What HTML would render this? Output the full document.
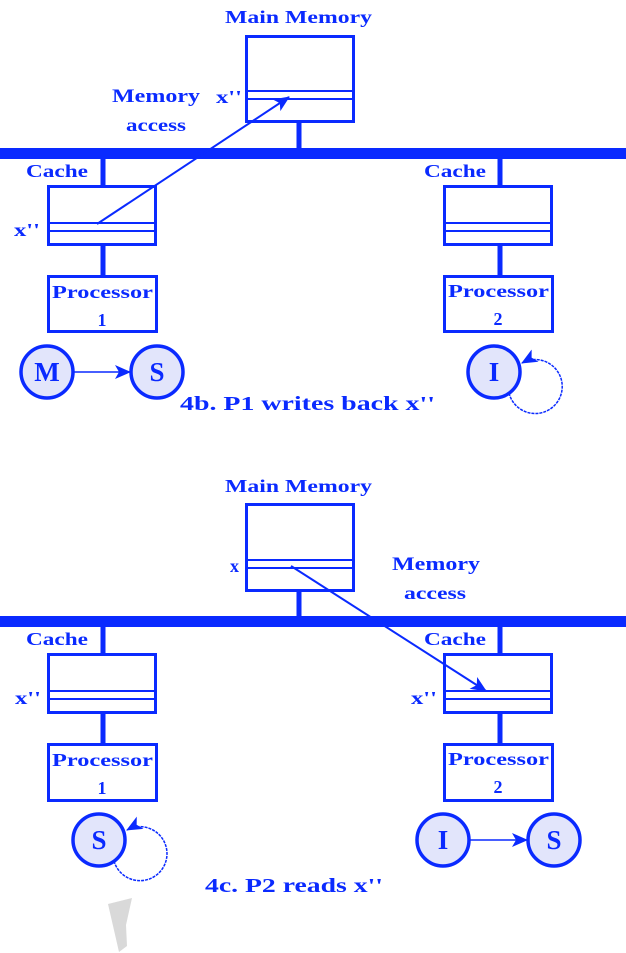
<!DOCTYPE html>
<html><head><meta charset="utf-8"><style>
html,body{margin:0;padding:0;background:#fff;}
svg{display:block;}
text{font-family:"Liberation Serif",serif;font-weight:bold;fill:#0a2aff;}
</style></head><body>
<svg width="626" height="953" viewBox="0 0 626 953" xmlns="http://www.w3.org/2000/svg">
<defs>
<marker id="ah2" markerWidth="16" markerHeight="14" refX="15" refY="7" orient="auto" markerUnits="userSpaceOnUse">
<path d="M0,0 L16,7 L0,14 L4,7 Z" fill="#0a2aff"/>
</marker>
</defs>
<g stroke="#0a2aff" fill="none">
<!-- TOP -->
<rect x="246.5" y="36.5" width="107" height="85" stroke-width="3"/>
<line x1="246" y1="91" x2="354" y2="91" stroke-width="2"/>
<line x1="246" y1="99" x2="354" y2="99" stroke-width="2"/>
<line x1="299" y1="122" x2="299" y2="150" stroke-width="5"/>
<rect x="0" y="148" width="626" height="11" fill="#0a2aff" stroke="none"/>
<line x1="103" y1="158" x2="103" y2="186" stroke-width="5"/>
<rect x="48.5" y="186.5" width="107" height="58" stroke-width="3"/>
<line x1="48" y1="223" x2="156" y2="223" stroke-width="2"/>
<line x1="48" y1="231" x2="156" y2="231" stroke-width="2"/>
<line x1="103" y1="245" x2="103" y2="276" stroke-width="5"/>
<rect x="48.5" y="276.5" width="108" height="55" stroke-width="3"/>
<line x1="500" y1="158" x2="500" y2="186" stroke-width="5"/>
<rect x="444.5" y="186.5" width="107" height="58" stroke-width="3"/>
<line x1="444" y1="223" x2="552" y2="223" stroke-width="2"/>
<line x1="444" y1="231" x2="552" y2="231" stroke-width="2"/>
<line x1="500" y1="245" x2="500" y2="276" stroke-width="5"/>
<rect x="444.5" y="276.5" width="108" height="55" stroke-width="3"/>
<line x1="97" y1="224" x2="289" y2="97" stroke-width="2" marker-end="url(#ah2)"/>
<circle cx="47" cy="372" r="26" fill="#e2e5fb" stroke-width="3.5"/>
<circle cx="157" cy="372" r="26" fill="#e2e5fb" stroke-width="3.5"/>
<line x1="74" y1="372" x2="130" y2="372" stroke-width="1.5" marker-end="url(#ah2)"/>
<circle cx="494" cy="372" r="26" fill="#e2e5fb" stroke-width="3.5"/>
<path d="M509,393 A27,27 0 1 0 522,363" stroke-width="1.5" stroke-dasharray="3,1" marker-end="url(#ah2)"/>
<!-- BOTTOM -->
<rect x="246.5" y="504.5" width="107" height="86" stroke-width="3"/>
<line x1="246" y1="560" x2="354" y2="560" stroke-width="2"/>
<line x1="246" y1="568" x2="354" y2="568" stroke-width="2"/>
<line x1="299" y1="591" x2="299" y2="618" stroke-width="5"/>
<rect x="0" y="616" width="626" height="11" fill="#0a2aff" stroke="none"/>
<line x1="103" y1="626" x2="103" y2="654" stroke-width="5"/>
<rect x="48.5" y="654.5" width="107" height="58" stroke-width="3"/>
<line x1="48" y1="691" x2="156" y2="691" stroke-width="2"/>
<line x1="48" y1="699" x2="156" y2="699" stroke-width="2"/>
<line x1="103" y1="713" x2="103" y2="744" stroke-width="5"/>
<rect x="48.5" y="744.5" width="108" height="56" stroke-width="3"/>
<line x1="500" y1="626" x2="500" y2="654" stroke-width="5"/>
<rect x="444.5" y="654.5" width="107" height="58" stroke-width="3"/>
<line x1="444" y1="691" x2="552" y2="691" stroke-width="2"/>
<line x1="444" y1="699" x2="552" y2="699" stroke-width="2"/>
<line x1="500" y1="713" x2="500" y2="744" stroke-width="5"/>
<rect x="444.5" y="744.5" width="108" height="56" stroke-width="3"/>
<line x1="291" y1="566" x2="486" y2="691" stroke-width="2" marker-end="url(#ah2)"/>
<circle cx="99" cy="840" r="26" fill="#e2e5fb" stroke-width="3.5"/>
<path d="M114,861 A27,27 0 1 0 127,830" stroke-width="1.5" stroke-dasharray="3,1" marker-end="url(#ah2)"/>
<circle cx="443" cy="840" r="26" fill="#e2e5fb" stroke-width="3.5"/>
<circle cx="554" cy="840" r="26" fill="#e2e5fb" stroke-width="3.5"/>
<line x1="470" y1="840" x2="527" y2="840" stroke-width="1.5" marker-end="url(#ah2)"/>
</g>
<polygon points="108,904 132,898 126,925 127,946 119,952" fill="#d9d9d9"/>
<!-- text top -->
<text x="225" y="23" font-size="18" textLength="147" lengthAdjust="spacingAndGlyphs">Main Memory</text>
<text x="112" y="102" font-size="19" textLength="88" lengthAdjust="spacingAndGlyphs">Memory</text>
<text x="126" y="131" font-size="18" textLength="60" lengthAdjust="spacingAndGlyphs">access</text>
<text x="216" y="103" font-size="18" textLength="26" lengthAdjust="spacingAndGlyphs">x''</text>
<text x="26" y="177" font-size="18" textLength="62" lengthAdjust="spacingAndGlyphs">Cache</text>
<text x="14" y="236" font-size="18" textLength="26" lengthAdjust="spacingAndGlyphs">x''</text>
<text x="52" y="298" font-size="18" textLength="101" lengthAdjust="spacingAndGlyphs">Processor</text>
<text x="102" y="326" font-size="18" text-anchor="middle">1</text>
<text x="424" y="177" font-size="18" textLength="62" lengthAdjust="spacingAndGlyphs">Cache</text>
<text x="448" y="297" font-size="18" textLength="101" lengthAdjust="spacingAndGlyphs">Processor</text>
<text x="498" y="325" font-size="18" text-anchor="middle">2</text>
<text x="47" y="381" font-size="27" text-anchor="middle">M</text>
<text x="157" y="381" font-size="27" text-anchor="middle">S</text>
<text x="494" y="381" font-size="27" text-anchor="middle">I</text>
<text x="180" y="410" font-size="20" textLength="255" lengthAdjust="spacingAndGlyphs">4b. P1 writes back x''</text>
<!-- text bottom -->
<text x="225" y="492" font-size="18" textLength="147" lengthAdjust="spacingAndGlyphs">Main Memory</text>
<text x="230" y="572" font-size="18">x</text>
<text x="392" y="570" font-size="19" textLength="88" lengthAdjust="spacingAndGlyphs">Memory</text>
<text x="404" y="599" font-size="18" textLength="62" lengthAdjust="spacingAndGlyphs">access</text>
<text x="26" y="645" font-size="18" textLength="62" lengthAdjust="spacingAndGlyphs">Cache</text>
<text x="15" y="704" font-size="18" textLength="26" lengthAdjust="spacingAndGlyphs">x''</text>
<text x="52" y="766" font-size="18" textLength="101" lengthAdjust="spacingAndGlyphs">Processor</text>
<text x="102" y="794" font-size="18" text-anchor="middle">1</text>
<text x="424" y="645" font-size="18" textLength="62" lengthAdjust="spacingAndGlyphs">Cache</text>
<text x="411" y="704" font-size="18" textLength="26" lengthAdjust="spacingAndGlyphs">x''</text>
<text x="448" y="765" font-size="18" textLength="101" lengthAdjust="spacingAndGlyphs">Processor</text>
<text x="498" y="793" font-size="18" text-anchor="middle">2</text>
<text x="99" y="849" font-size="27" text-anchor="middle">S</text>
<text x="443" y="849" font-size="27" text-anchor="middle">I</text>
<text x="554" y="849" font-size="27" text-anchor="middle">S</text>
<text x="205" y="892" font-size="20" textLength="178" lengthAdjust="spacingAndGlyphs">4c. P2 reads x''</text>
</svg>
</body></html>
